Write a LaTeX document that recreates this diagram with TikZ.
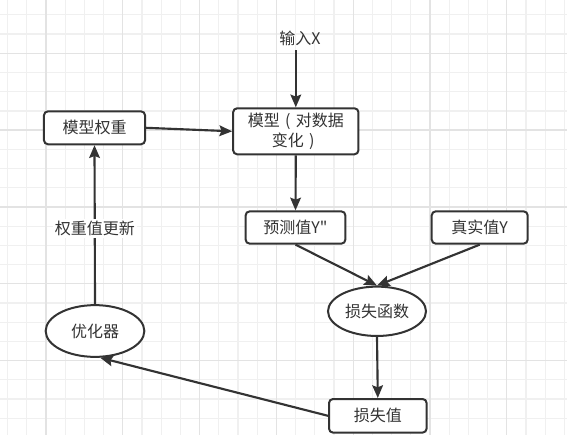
\documentclass[tikz,border=0pt]{standalone}
\usepackage{fontspec}
\setmainfont{Noto Sans CJK SC}[Ligatures=TeXOff]
\usetikzlibrary{arrows.meta,shapes.geometric}
\definecolor{ink}{HTML}{333333}
\definecolor{gridminor}{HTML}{F0F0F0}
\definecolor{gridmajor}{HTML}{E3E3E3}
\newcommand{\wideparen}[1]{\makebox[1em][c]{#1}}
\begin{document}
\begin{tikzpicture}[x=0.75pt,y=-0.75pt,
  txt/.style={text=ink, font=\fontsize{12}{15}\selectfont},
  box/.style={txt, draw=ink, line width=1.5pt, rounded corners=3pt, fill=white, inner sep=0pt, align=center},
  oval/.style={txt, ellipse, draw=ink, line width=1.5pt, fill=white, inner sep=0pt},
  arr/.style={draw=ink, line width=1.6pt, -{Stealth[length=9.5pt,width=8pt,inset=1.5pt]}},
  lbl/.style={txt, fill=white, inner sep=1.5pt}]
\fill[white] (0,0) rectangle (567,435);
\useasboundingbox (0,0) rectangle (567,435);
% grid
\foreach \k in {0,...,29} \draw[gridminor, line width=0.9pt] ({7.6+19.2*\k},0) -- ({7.6+19.2*\k},435);
\foreach \k in {0,...,22} \draw[gridminor, line width=0.9pt] (0,{14.9+19.2*\k}) -- (567,{14.9+19.2*\k});
\foreach \k in {2,6,...,26} \draw[gridmajor, line width=1pt] ({7.6+19.2*\k},0) -- ({7.6+19.2*\k},435);
\foreach \k in {2,6,...,18} \draw[gridmajor, line width=1pt] (0,{14.9+19.2*\k}) -- (567,{14.9+19.2*\k});
% nodes
\node[txt] (inp) at (300,38) {输入X};
\node[box, minimum width=94pt, minimum height=34.5pt] (model) at (295.8,131.3) {模型\wideparen{(}对数据\\变化\wideparen{)}};
\node[box, minimum width=75.8pt, minimum height=24.7pt] (weight) at (94.5,127.8) {模型权重};
\node[box, minimum width=74.8pt, minimum height=24.2pt] (pred) at (295.5,227.5) {预测值Y"};
\node[box, minimum width=72pt, minimum height=24.2pt] (true) at (479.7,227.5) {真实值Y};
\node[oval, minimum width=73.5pt, minimum height=37pt] (lossf) at (377,311.3) {损失函数};
\node[box, minimum width=73.2pt, minimum height=25.2pt] (lossv) at (377.8,415.8) {损失值};
\node[oval, minimum width=74pt, minimum height=38.8pt] (opt) at (95,331) {优化器};
% connectors
\draw[arr] (model.north |- inp.south) -- (model.north);
\draw[arr] (weight.east) -- (model.west);
\draw[arr] (model.south) -- (pred.north);
\draw[arr] (pred.south) -- (lossf.north);
\draw[arr] (true.south) -- (lossf.north);
\draw[arr] (lossf.south) -- (lossv.north);
\draw[arr] (lossv.west) -- (opt.-79);
\draw[arr] (opt.north) -- node[lbl, pos=0.478] {权重值更新} (weight.south);
\end{tikzpicture}
\end{document}
